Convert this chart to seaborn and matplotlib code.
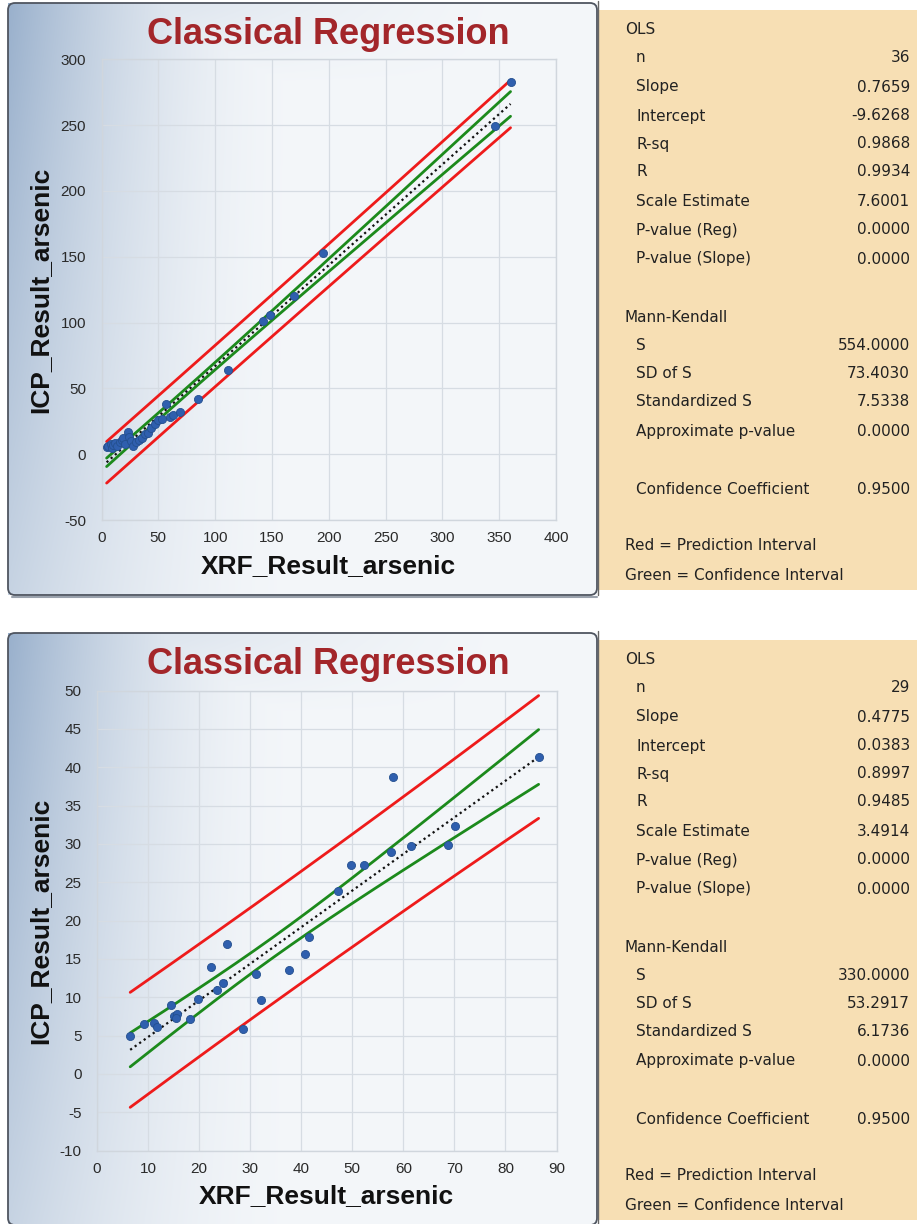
import numpy as np
import matplotlib
matplotlib.use("Agg")
import matplotlib.pyplot as plt
import seaborn as sns
import pandas as pd
from matplotlib.patches import FancyBboxPatch, Rectangle
from matplotlib import font_manager

# ---------------- data ----------------
# top panel (n = 36)
xrf_top = [4.5, 6, 8, 9, 10.5, 12, 14, 16, 18, 19, 21, 23, 24, 26, 28, 30, 33, 36,
           38, 41, 44, 47, 50, 53, 57, 60, 63, 69, 85, 111, 142, 148, 169, 195, 346, 360]
icp_top = [5.5, 6.5, 7.5, 5, 7, 8.5, 6, 9, 10.5, 12, 8, 17, 13, 10, 6, 9.5, 11, 12,
           15, 16, 20, 23, 26, 27, 38.5, 28.5, 30, 32, 42, 64, 101, 106, 120, 152.5, 249, 282.5]
stats_top_values = ["36", "0.7659", "-9.6268", "0.9868", "0.9934", "7.6001", "0.0000", "0.0000",
                    "554.0000", "73.4030", "7.5338", "0.0000", "0.9500"]
slope_top, intercept_top, scale_top, t_top = 0.7659, -9.6268, 7.6001, 2.032

# bottom panel (n = 29)
xrf_bot = [6.5, 9.2, 11.2, 11.8, 14.4, 15.0, 15.6, 15.4, 18.2, 19.7, 22.3, 23.6, 24.6, 25.5,
           28.5, 31.2, 32.1, 37.6, 40.7, 41.5, 47.2, 49.8, 52.2, 58.0, 57.5, 61.5, 68.7, 70.1, 86.5]
icp_bot = [5.0, 6.5, 6.7, 6.1, 9.0, 7.6, 7.8, 7.3, 7.2, 9.8, 14.0, 10.9, 11.8, 16.9,
           5.8, 13.0, 9.7, 13.6, 15.6, 17.9, 23.8, 27.3, 27.3, 38.7, 28.9, 29.7, 29.9, 32.4, 41.4]
stats_bot_values = ["29", "0.4775", "0.0383", "0.8997", "0.9485", "3.4914", "0.0000", "0.0000",
                    "330.0000", "53.2917", "6.1736", "0.0000", "0.9500"]
slope_bot, intercept_bot, scale_bot, t_bot = 0.4775, 0.0383, 3.4914, 2.052

stat_labels = ["n", "Slope", "Intercept", "R-sq", "R", "Scale Estimate", "P-value (Reg)",
               "P-value (Slope)", "S", "SD of S", "Standardized S", "Approximate p-value",
               "Confidence Coefficient"]

title_text = "Classical Regression"
xlabel_text = "XRF_Result_arsenic"
ylabel_text = "ICP_Result_arsenic"

# ---------------- fonts ----------------
sns.set_theme(style="white")


def pick(fams):
    for f in fams:
        try:
            font_manager.findfont(font_manager.FontProperties(family=f), fallback_to_default=False)
            return f
        except Exception:
            pass
    return None


narrow = pick(["Liberation Sans Narrow", "Arial Narrow"])
label_font = pick(["Liberation Sans", "Arial"]) or "DejaVu Sans"
if narrow is None:
    tick_font, tick_size = label_font, 11
else:
    tick_font, tick_size = narrow, 12
plt.rcParams["font.family"] = ["DejaVu Sans"]
plt.rcParams["axes.unicode_minus"] = False

W, H = 917, 1224
fig = plt.figure(figsize=(W / 100, H / 100), dpi=100)
fig.patch.set_facecolor("white")

bg = fig.add_axes([0, 0, 1, 1], zorder=-10)
bg.set_xlim(0, W)
bg.set_ylim(H, 0)
bg.axis("off")


def gradient(w, h):
    xx, yy = np.meshgrid(np.arange(w), np.arange(h))
    t = np.clip(1 - xx / 290.0, 0, 1) ** 1.8 * (1 - 0.5 * yy / h)
    t = np.maximum(t, np.clip(1 - xx / 500.0, 0, 1) ** 1.5 * np.clip(1 - yy / 80.0, 0, 1) * 0.45)
    base = np.array([0.955, 0.966, 0.978])
    strong = np.array([0.60, 0.69, 0.80])
    img = base[None, None, :] * (1 - t[..., None]) + strong[None, None, :] * t[..., None]
    return img


def panel(y_off, xs, ys, slope, intercept, scale, tval, ax_rect, xlim, ylim, xticks, yticks,
          values, ylab_x):
    # left chart panel
    img = gradient(589, 592)
    bg.imshow(img, extent=(8, 597, y_off + 595, y_off + 3), origin="upper", aspect="auto", zorder=0)
    bg.add_patch(FancyBboxPatch((8, y_off + 3), 589, 592, boxstyle="round,pad=0,rounding_size=7",
                                fill=False, ec="#4f5560", lw=1.3, zorder=2))
    bg.plot([12, 597], [y_off + 596.5, y_off + 596.5], color="#9aa2ad", lw=1.5, zorder=1)
    # stats panel
    bg.add_patch(Rectangle((598, y_off + 10), 319, 580, fc="#f7dfb4", ec="none", zorder=1))
    bg.plot([597.5, 597.5], [y_off + 1, y_off + 595], color="#666666", lw=1, zorder=3)

    fig.text(328 / W, 1 - (y_off + 35) / H, title_text, ha="center", va="center",
             fontsize=26, fontweight="bold", color="#a3262a", family=label_font)

    # stats text
    rows_y = [58, 87, 116, 144, 172, 201, 230, 259, 346, 374, 402, 431, 489]
    tc = "#222222"
    fig.text(625 / W, 1 - (y_off + 30) / H, "OLS", ha="left", va="center", fontsize=11, color=tc)
    fig.text(625 / W, 1 - (y_off + 318) / H, "Mann-Kendall", ha="left", va="center", fontsize=11,
             color=tc)
    for lab, val, ry in zip(stat_labels, values, rows_y):
        fig.text(636 / W, 1 - (y_off + ry) / H, lab, ha="left", va="center", fontsize=11, color=tc)
        fig.text(910 / W, 1 - (y_off + ry) / H, val, ha="right", va="center", fontsize=11, color=tc)
    fig.text(625 / W, 1 - (y_off + 546) / H, "Red = Prediction Interval", ha="left", va="center",
             fontsize=11, color=tc)
    fig.text(625 / W, 1 - (y_off + 575) / H, "Green = Confidence Interval", ha="left", va="center",
             fontsize=11, color=tc)

    # chart axes
    ax = fig.add_axes(ax_rect)
    ax.set_facecolor("none")
    df = pd.DataFrame({"x": xs, "y": ys})
    xa = np.asarray(xs, float)
    n = len(xa)
    xbar = xa.mean()
    sxx = ((xa - xbar) ** 2).sum()
    xl = np.linspace(xa.min(), xa.max(), 300)
    yhat = intercept + slope * xl
    se_fit = scale * np.sqrt(1.0 / n + (xl - xbar) ** 2 / sxx)
    se_pred = scale * np.sqrt(1 + 1.0 / n + (xl - xbar) ** 2 / sxx)
    for sgn in (1, -1):
        sns.lineplot(x=xl, y=yhat + sgn * tval * se_pred, color="#ee1b1b", lw=2.0, ax=ax, zorder=3)
        sns.lineplot(x=xl, y=yhat + sgn * tval * se_fit, color="#1c8a1c", lw=2.0, ax=ax, zorder=3)
    sns.lineplot(x=xl, y=yhat, color="#111111", lw=1.6, ax=ax, zorder=4, linestyle=(0, (1, 1.5)))
    sns.scatterplot(data=df, x="x", y="y", color="#2f5fae", edgecolor="#24508f", linewidth=0.6,
                    s=34, ax=ax, zorder=5)

    ax.set_xlim(*xlim)
    ax.set_ylim(*ylim)
    ax.set_xticks(xticks)
    ax.set_yticks(yticks)
    ax.grid(True, color="#d6dce3", lw=0.9)
    ax.set_axisbelow(True)
    for sp in ax.spines.values():
        sp.set_color("#d0d6dd")
        sp.set_linewidth(1)
    ax.tick_params(axis="both", length=0, labelsize=tick_size, labelcolor="#2a2a2a",
                   labelfontfamily=tick_font)
    ax.tick_params(axis="y", pad=11)
    ax.tick_params(axis="x", pad=8)
    ax.set_xlabel(xlabel_text, fontsize=19, fontweight="bold", family=label_font, color="#111111")
    ax.set_ylabel(ylabel_text, fontsize=19, fontweight="bold", family=label_font, color="#111111")
    ax.xaxis.set_label_coords(0.5, -0.073)
    ax.yaxis.set_label_coords(ylab_x, 0.5)
    return ax


panel(0, xrf_top, icp_top, slope_top, intercept_top, scale_top, t_top,
      [101.5 / W, 1 - 520 / H, 454.5 / W, 460.7 / H], (0, 400), (-50, 300),
      np.arange(0, 401, 50), np.arange(-50, 301, 50), stats_top_values, -0.109)

panel(630, xrf_bot, icp_bot, slope_bot, intercept_bot, scale_bot, t_bot,
      [97 / W, 1 - 1150.6 / H, 459.5 / W, 460 / H], (0, 90), (-10, 50),
      np.arange(0, 91, 10), np.arange(-10, 51, 5), stats_bot_values, -0.098)

fig.savefig("out.png", dpi=100)
